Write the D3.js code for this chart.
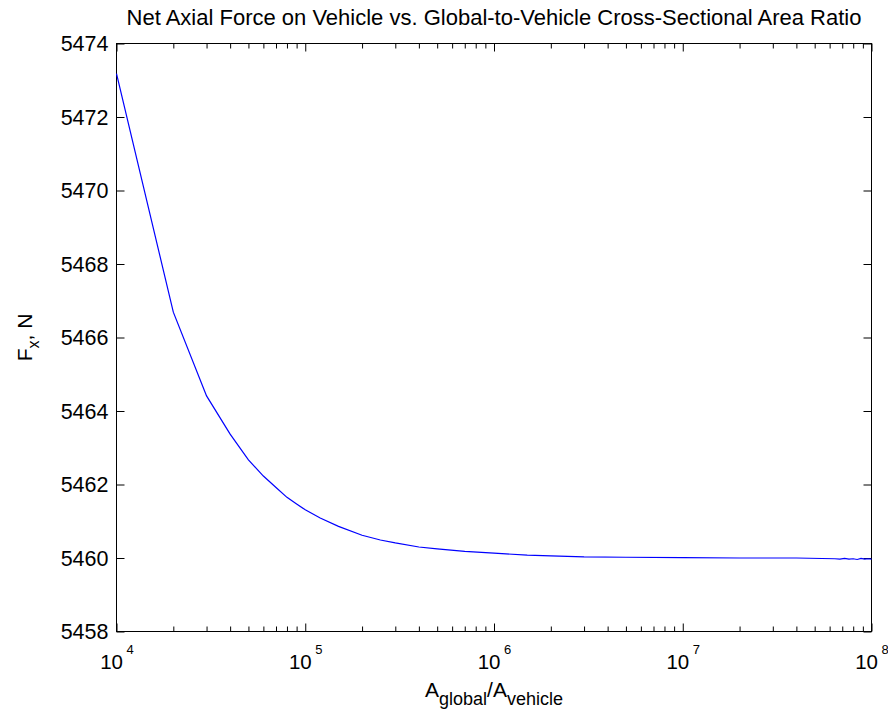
<!DOCTYPE html>
<html>
<head>
<meta charset="utf-8">
<script src="https://cdn.jsdelivr.net/npm/d3@7"></script>
<style>
  html, body { margin: 0; padding: 0; background: #fff; }
  svg text { font-family: "Liberation Sans", Arial, Helvetica, sans-serif; fill: #000; }
</style>
</head>
<body>
<svg id="chart" width="888" height="713"></svg>
<script>
// Area ratio A_global / A_vehicle
const areaRatio = [1e4, 2e4, 3e4, 4e4, 5e4, 6e4, 7e4, 8e4, 9e4, 1e5,
  1.2e5, 1.5e5, 2e5, 2.5e5, 3e5, 4e5, 5e5, 7e5, 1e6, 1.5e6,
  2e6, 3e6, 5e6, 1e7, 2e7, 4e7, 6.4e7, 6.8e7, 7.2e7, 7.6e7,
  8e7, 8.4e7, 8.8e7, 9.2e7, 9.6e7, 1e8];
// Net axial force F_x, N
const axialForce = [5473.18, 5466.69, 5464.41, 5463.37, 5462.67, 5462.23, 5461.92, 5461.65, 5461.47, 5461.31,
  5461.09, 5460.86, 5460.62, 5460.49, 5460.41, 5460.30, 5460.25, 5460.18, 5460.13, 5460.08,
  5460.06, 5460.03, 5460.02, 5460.01, 5460.00, 5460.00, 5459.98, 5459.97, 5459.99, 5459.97,
  5459.98, 5459.96, 5459.99, 5459.97, 5459.98, 5459.97];
const xMajorTicks = [1e4, 1e5, 1e6, 1e7, 1e8];
const xExponents = ["4", "5", "6", "7", "8"];
const yTicks = [5458, 5460, 5462, 5464, 5466, 5468, 5470, 5472, 5474];

const titleText = "Net Axial Force on Vehicle vs. Global-to-Vehicle Cross-Sectional Area Ratio";

const svg = d3.select("#chart");
const box = { left: 116.5, right: 871.5, top: 43.5, bottom: 631.5 };

const x = d3.scaleLog().domain([1e4, 1e8]).range([box.left, box.right]);
const y = d3.scaleLinear().domain([5458, 5474]).range([box.bottom, box.top]);

// minor ticks 2..9 within each decade
const xMinorTicks = [];
for (let i = 0; i < xMajorTicks.length - 1; i++) {
  for (let m = 2; m <= 9; m++) xMinorTicks.push(xMajorTicks[i] * m);
}

svg.append("rect").attr("width", 888).attr("height", 713).attr("fill", "#fff");

const tickStroke = g => g.call(s => s.select(".domain").remove())
  .selectAll("line").attr("stroke", "#000").attr("stroke-width", 1);

// bottom / top major + minor ticks (pointing inward)
[[box.bottom, d3.axisBottom], [box.top, d3.axisTop]].forEach(([pos, axisFn]) => {
  svg.append("g").attr("transform", `translate(0,${pos})`)
    .call(axisFn(x).tickValues(xMajorTicks).tickSize(-8).tickFormat(""))
    .call(tickStroke);
  svg.append("g").attr("transform", `translate(0,${pos})`)
    .call(axisFn(x).tickValues(xMinorTicks).tickSize(-5).tickFormat(""))
    .call(tickStroke);
});

// left / right ticks
svg.append("g").attr("transform", `translate(${box.left},0)`)
  .call(d3.axisLeft(y).tickValues(yTicks).tickSize(-8).tickFormat(""))
  .call(tickStroke);
svg.append("g").attr("transform", `translate(${box.right},0)`)
  .call(d3.axisRight(y).tickValues(yTicks).tickSize(-8).tickFormat(""))
  .call(tickStroke);

// frame
svg.append("rect")
  .attr("x", box.left).attr("y", box.top)
  .attr("width", box.right - box.left).attr("height", box.bottom - box.top)
  .attr("fill", "none").attr("stroke", "#000").attr("stroke-width", 1);

// y tick labels
svg.append("g").selectAll("text").data(yTicks).join("text")
  .attr("x", box.left - 8)
  .attr("y", d => y(d))
  .attr("dy", "0.36em")
  .attr("text-anchor", "end")
  .attr("font-size", 21.5)
  .text(d => d);

// x tick labels: 10 with superscript exponent
const xl = svg.append("g").selectAll("g").data(xMajorTicks).join("g")
  .attr("transform", d => `translate(${x(d)},${box.bottom + 37})`);
xl.append("text")
  .attr("text-anchor", "end")
  .attr("x", 6.5)
  .attr("font-size", 20.5)
  .text("10");
xl.append("text")
  .attr("x", 10)
  .attr("y", -15)
  .attr("font-size", 13)
  .text((d, i) => xExponents[i]);

// title
svg.append("text")
  .attr("x", (box.left + box.right) / 2)
  .attr("y", 25)
  .attr("text-anchor", "middle")
  .attr("font-size", 22)
  .text(titleText);

// x label: A_global / A_vehicle
const xLabel = svg.append("text")
  .attr("x", (box.left + box.right) / 2)
  .attr("y", 697)
  .attr("text-anchor", "middle")
  .attr("font-size", 21);
xLabel.append("tspan").text("A");
xLabel.append("tspan").attr("dy", 8).attr("font-size", 18).text("global");
xLabel.append("tspan").attr("dy", -8).text("/A");
xLabel.append("tspan").attr("dy", 8).attr("font-size", 18).text("vehicle");

// y label: F_x, N
const yLabel = svg.append("text")
  .attr("transform", `translate(32,${(box.top + box.bottom) / 2}) rotate(-90)`)
  .attr("text-anchor", "middle")
  .attr("font-size", 21);
yLabel.append("tspan").text("F");
yLabel.append("tspan").attr("dy", 7).attr("font-size", 16).text("x");
yLabel.append("tspan").attr("dy", -7).text(", N");

// force curve
const line = d3.line()
  .x((d, i) => x(areaRatio[i]))
  .y(d => y(d));
svg.append("path")
  .datum(axialForce)
  .attr("d", line)
  .attr("fill", "none")
  .attr("stroke", "#0000ff")
  .attr("stroke-width", 1.2);
</script>
</body>
</html>
